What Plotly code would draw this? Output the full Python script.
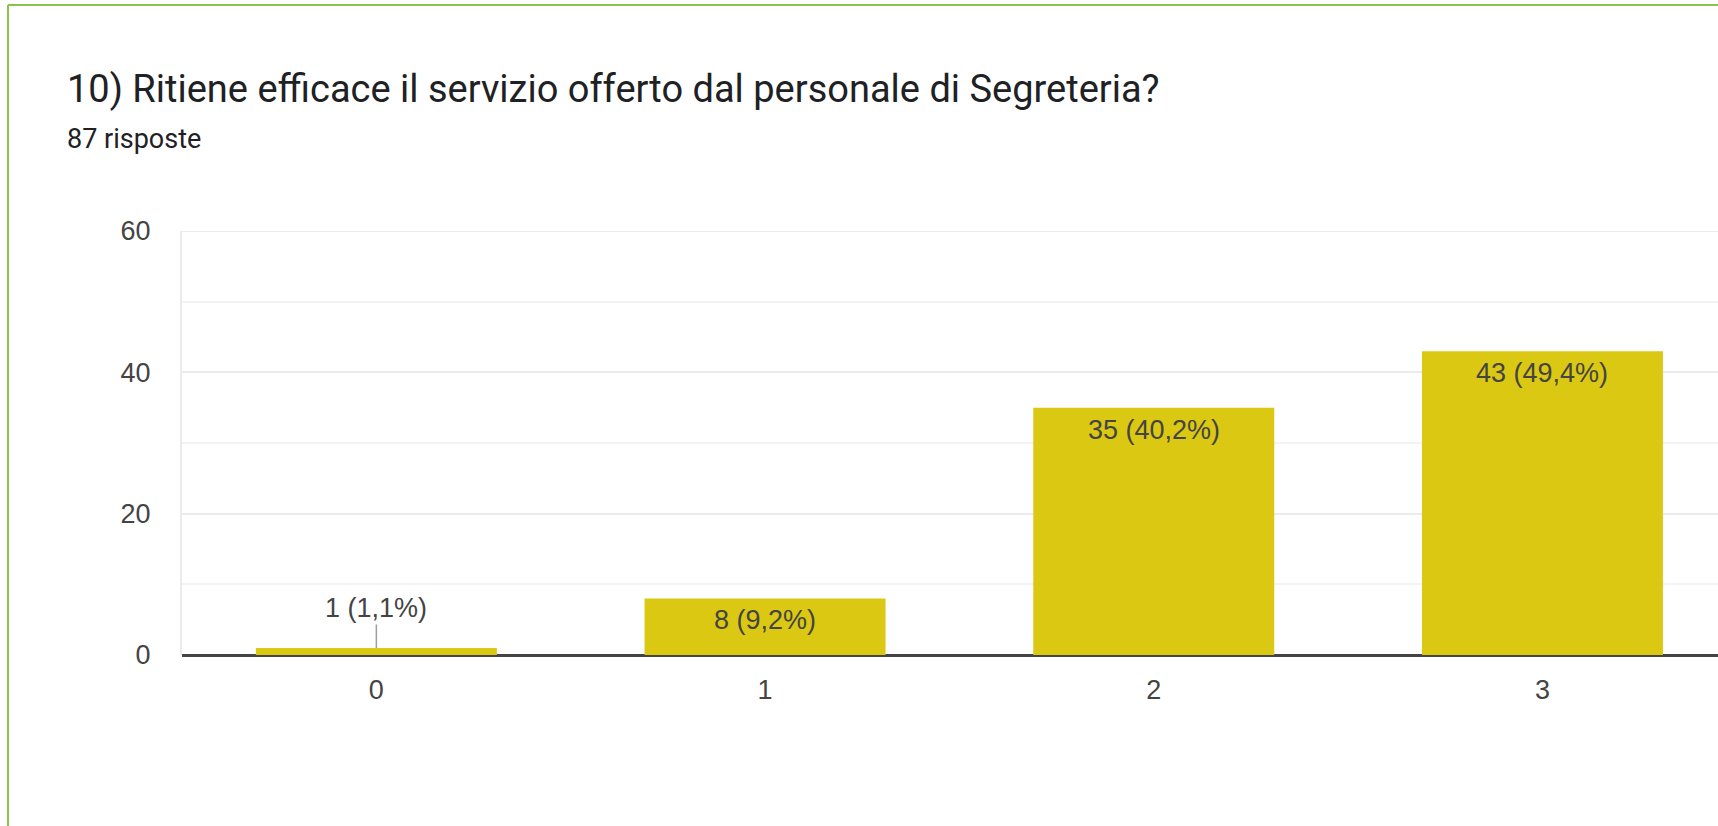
import plotly.graph_objects as go

categories = ["0", "1", "2", "3"]
counts = [1, 8, 35, 43]
percents = [1.1, 9.2, 40.2, 49.4]
y_ticks = [0, 20, 40, 60]
y_max = 60

title_text = "10) Ritiene efficace il servizio offerto dal personale di Segreteria?"
subtitle_text = "87 risposte"

BAR_COLOR = "#dbc813"
TEXT_COLOR = "#444444"
FONT = "Arial, 'Liberation Sans', sans-serif"

# Figure geometry (pixels)
W, H = 1718, 826
L, T, B = 182, 231, 171
plot_w = W - L
plot_h = H - T - B
band = 388.7
x_max = plot_w / band - 0.5


def px_x(px):
    return (px - L) / plot_w


def px_y(py):
    return (H - B - py) / plot_h


labels = [f"{c} ({str(p).replace('.', ',')}%)" for c, p in zip(counts, percents)]

fig = go.Figure()
fig.add_trace(go.Bar(
    x=list(range(len(categories))),
    y=counts,
    marker=dict(color=BAR_COLOR, line=dict(width=0)),
    hoverinfo="skip",
))

# outside label with leader line for the smallest bar
fig.add_annotation(
    x=0, y=counts[0], xref="x", yref="y",
    text=labels[0], showarrow=True, arrowhead=0, arrowwidth=1.5,
    arrowcolor="#9e9e9e", ax=0, ay=-40,
    font=dict(family=FONT, size=27, color=TEXT_COLOR),
)
# inside labels near the top of the other bars
for i in range(1, len(counts)):
    fig.add_annotation(
        x=i, y=counts[i], xref="x", yref="y",
        text=labels[i], showarrow=False, yanchor="middle", yshift=-22,
        font=dict(family=FONT, size=27, color=TEXT_COLOR),
    )

# title and subtitle
fig.add_annotation(
    x=px_x(65), y=px_y(89), xref="paper", yref="paper",
    text=title_text, showarrow=False, xanchor="left", yanchor="middle",
    font=dict(family="Roboto, sans-serif", size=38, color="#202124"),
)
fig.add_annotation(
    x=px_x(65), y=px_y(139), xref="paper", yref="paper",
    text=subtitle_text, showarrow=False, xanchor="left", yanchor="middle",
    font=dict(family="Roboto, sans-serif", size=27, color="#202124"),
)

# top gridline at the maximum of the axis
fig.add_shape(type="line", xref="paper", yref="y", x0=0, x1=1, y0=y_max, y1=y_max,
              line=dict(color="#ebebeb", width=2), layer="below")

# green card border (top and left)
fig.add_shape(type="line", xref="paper", yref="paper",
              x0=px_x(8), x1=px_x(W + 10), y0=px_y(5), y1=px_y(5),
              line=dict(color="#8bc34a", width=2))
fig.add_shape(type="line", xref="paper", yref="paper",
              x0=px_x(8), x1=px_x(8), y0=px_y(5), y1=px_y(H + 10),
              line=dict(color="#8bc34a", width=2))

fig.update_layout(
    width=W, height=H,
    margin=dict(l=L, r=0, t=T, b=B, pad=0),
    paper_bgcolor="white", plot_bgcolor="white",
    bargap=0.38,
    showlegend=False,
    font=dict(family=FONT, size=27, color=TEXT_COLOR),
)
fig.update_xaxes(
    range=[-0.5, x_max],
    tickmode="array", tickvals=list(range(len(categories))), ticktext=categories,
    showgrid=False, zeroline=False, showline=False,
    ticks="", ticklabelstandoff=16,
    tickfont=dict(family=FONT, size=27, color=TEXT_COLOR),
)
fig.update_yaxes(
    range=[0, y_max],
    tickmode="array", tickvals=y_ticks,
    showgrid=True, gridcolor="#ebebeb", gridwidth=2,
    minor=dict(dtick=10, showgrid=True, gridcolor="#f3f3f3", gridwidth=2),
    zeroline=True, zerolinecolor="#444444", zerolinewidth=2.5,
    showline=True, linecolor="#ebebeb", linewidth=2,
    ticks="", ticklabelstandoff=24,
    tickfont=dict(family=FONT, size=27, color=TEXT_COLOR),
)

fig.write_html(
    "out.html",
    config={"displayModeBar": False},
    post_script="document.body.style.margin='0';document.body.style.overflow='hidden';",
)
